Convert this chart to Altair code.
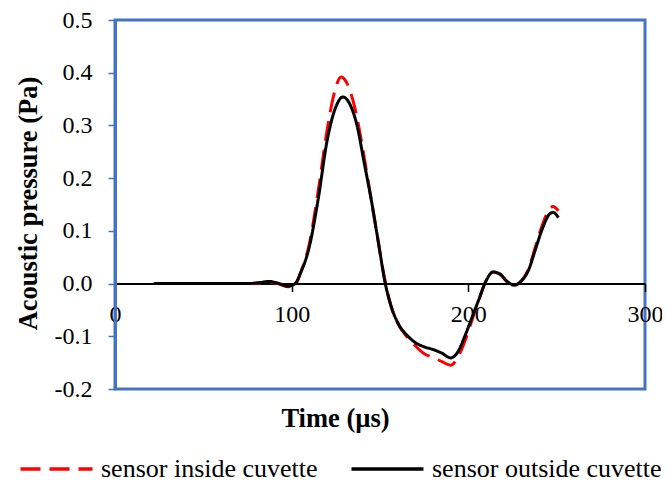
import altair as alt
import pandas as pd

series = ["sensor inside cuvette", "sensor outside cuvette"]

t_inside = [22, 40, 60, 75, 82, 87, 92, 98, 102, 105, 110, 115, 120, 124, 128, 132, 136, 140,
            144, 148, 152, 156, 160, 165, 170, 175, 180, 185, 190, 194, 198, 202, 206, 210,
            214, 218, 222, 226, 230, 234, 238, 242, 246, 248, 251]
p_inside = [0, 0, 0, 0, 0.001, 0.003, 0.0, -0.006, -0.002, 0.02, 0.075, 0.175, 0.29, 0.36, 0.392,
            0.375, 0.33, 0.26, 0.18, 0.10, 0.02, -0.04, -0.075, -0.10, -0.118, -0.133, -0.14,
            -0.148, -0.155, -0.14, -0.11, -0.07, -0.03, 0.005, 0.022, 0.017, 0.003, -0.003,
            0.005, 0.027, 0.07, 0.112, 0.142, 0.146, 0.138]

t_outside = [22, 40, 60, 75, 82, 87, 92, 98, 102, 105, 110, 115, 120, 125, 129, 133, 137, 141,
             145, 149, 153, 157, 161, 165, 170, 175, 180, 185, 190, 194, 198, 202, 206, 210,
             214, 218, 222, 226, 230, 234, 238, 242, 246, 248, 251]
p_outside = [0, 0, 0, 0, 0.002, 0.004, 0.001, -0.005, 0.0, 0.02, 0.07, 0.16, 0.27, 0.335, 0.354,
             0.34, 0.30, 0.23, 0.16, 0.08, 0.0, -0.05, -0.08, -0.097, -0.112, -0.12, -0.125,
             -0.132, -0.141, -0.13, -0.10, -0.065, -0.03, 0.005, 0.022, 0.018, 0.004, -0.003,
             0.005, 0.025, 0.065, 0.105, 0.132, 0.135, 0.125]

x_ticks = [0, 100, 200, 300]
y_ticks = [-0.2, -0.1, 0.0, 0.1, 0.2, 0.3, 0.4, 0.5]

df = pd.concat([
    pd.DataFrame({"t": t_inside, "p": p_inside, "s": series[0], "o": range(len(t_inside))}),
    pd.DataFrame({"t": t_outside, "p": p_outside, "s": series[1], "o": range(len(t_outside))}),
])

FONT = "Liberation Serif"
BLUE = "#4472C4"
W, H = 530, 369
y_zero = H * 0.5 / 0.7

chart = alt.Chart(df).mark_line(strokeWidth=3, interpolate="monotone").encode(
    x=alt.X("t:Q", scale=alt.Scale(domain=[0, 300], nice=False, zero=False),
            axis=alt.Axis(values=x_ticks, format="d", grid=False, offset=-(H - y_zero),
                          domainColor="black", domainWidth=2, tickColor="black", tickWidth=1.5,
                          tickSize=8, labelFont=FONT, labelFontSize=24, labelColor="black",
                          labelPadding=11, labelFlush=False, labelOverlap=False,
                          title="Time (\u00b5s)", titleFont=FONT, titleFontSize=26.5,
                          titleFontWeight="bold", titleColor="black",
                          titleX=220, titleY=135, titleAlign="center", titleBaseline="middle")),
    y=alt.Y("p:Q", scale=alt.Scale(domain=[-0.2, 0.5], nice=False, zero=False),
            axis=alt.Axis(values=y_ticks, grid=False,
                          labelExpr="datum.value < -0.0001 ? '-' + format(-datum.value, '.1f') : format(abs(datum.value), '.1f')",
                          domainColor=BLUE, domainWidth=3, tickColor=BLUE, tickWidth=1.5,
                          tickSize=7, labelFont=FONT, labelFontSize=24, labelColor="black",
                          labelPadding=16, labelFlush=False, labelOverlap=False,
                          title="Acoustic pressure (Pa)", titleFont=FONT, titleFontSize=26.5,
                          titleFontWeight="bold", titleColor="black", titleAngle=-90,
                          titleX=-87, titleY=183, titleAlign="center", titleBaseline="middle")),
    color=alt.Color("s:N", scale=alt.Scale(domain=series, range=["#FF0000", "#000000"]),
                    legend=alt.Legend(title=None, orient="none", legendX=-72.5, legendY=435,
                                      direction="horizontal", symbolType="M-3,0H3",
                                      symbolSize=576, symbolStrokeWidth=3.5,
                                      labelFont=FONT, labelFontSize=26, labelColor="black",
                                      columnPadding=26, labelOffset=30.5, padding=0,
                                      labelLimit=400)),
    strokeDash=alt.StrokeDash("s:N", scale=alt.Scale(domain=series, range=[[20, 9], [1, 0]]),
                              legend=None),
    order="o:Q",
).properties(
    width=W, height=H,
    padding={"left": 107, "top": 12, "right": 17, "bottom": 93},
    autosize=alt.AutoSizeParams(type="none"),
    background="white",
).configure_view(
    stroke=BLUE, strokeWidth=3
)

chart.save("out.html", embed_options={"renderer": "svg", "actions": False})
